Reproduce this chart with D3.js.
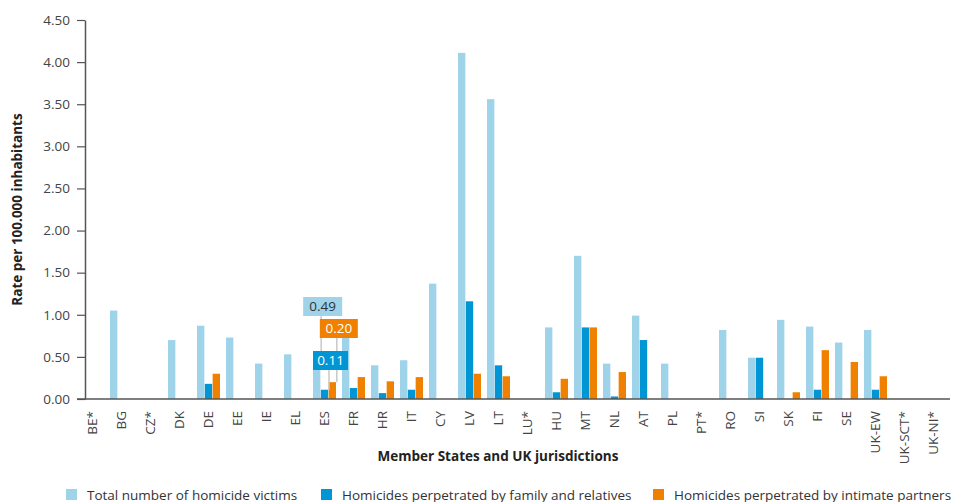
<!DOCTYPE html>
<html>
<head>
<meta charset="utf-8">
<script src="https://cdn.jsdelivr.net/npm/d3@7"></script>
<style>
  body { margin: 0; background: #fff; }
  svg text { font-family: "Open Sans", sans-serif; }
</style>
</head>
<body>
<svg id="chart" width="953" height="502"></svg>
<script>
const categories = ['BE*', 'BG', 'CZ*', 'DK', 'DE', 'EE', 'IE', 'EL', 'ES', 'FR', 'HR', 'IT', 'CY', 'LV', 'LT',
    'LU*', 'HU', 'MT', 'NL', 'AT', 'PL', 'PT*', 'RO', 'SI', 'SK', 'FI', 'SE', 'UK-EW', 'UK-SCT*', 'UK-NI*']

const totalVictims = [null, 1.05, null, 0.70, 0.87, 0.73, 0.42, 0.53, 0.49, 0.80, 0.40, 0.46, 1.37, 4.11, 3.56,
    null, 0.85, 1.70, 0.42, 0.99, 0.42, null, 0.82, 0.49, 0.94, 0.86, 0.67, 0.82, null, null]
const familyRelatives = [null, null, null, null, 0.18, null, null, null, 0.11, 0.13, 0.07, 0.11, null, 1.16, 0.40,
    null, 0.08, 0.85, 0.03, 0.70, null, null, null, 0.49, null, 0.11, null, 0.11, null, null]
const intimatePartners = [null, null, null, null, 0.30, null, null, null, 0.20, 0.26, 0.21, 0.26, null, 0.30, 0.27,
    null, 0.24, 0.85, 0.32, null, null, null, null, null, 0.08, 0.58, 0.44, 0.27, null, null]

const seriesNames = ['Total number of homicide victims', 'Homicides perpetrated by family and relatives',
    'Homicides perpetrated by intimate partners']
const yTicks = [0, 0.5, 1, 1.5, 2, 2.5, 3, 3.5, 4, 4.5]

// value callouts shown for ES
const callouts = [
    {category: 'ES', series: 0},
    {category: 'ES', series: 2},
    {category: 'ES', series: 1}]

const colours = ['#9fd3ea', '#0096d6', '#f08000']
const seriesValues = [totalVictims, familyRelatives, intimatePartners]

const svg = d3.select('#chart')
const axisY0 = 399, axisY1 = 20, axisX = 85

const x = d3.scaleBand()
    .domain(categories)
    .range([78, 948])
const x1 = d3.scaleBand()
    .domain([0, 1, 2])
    .range([x.bandwidth() / 2 - 11.5, x.bandwidth() / 2 + 11.5])
    .paddingInner(0.06)
const y = d3.scaleLinear()
    .domain([0, 4.5])
    .range([axisY0, axisY1])

// bars
const groups = svg.append('g').selectAll('g')
    .data(categories)
    .enter()
    .append('g')
    .attr('transform', d => `translate(${x(d)},0)`)

groups.selectAll('rect')
    .data((d, i) => seriesValues.map((vals, s) => ({s: s, v: vals[i]})).filter(e => e.v !== null))
    .enter()
    .append('rect')
    .attr('x', d => x1(d.s))
    .attr('width', x1.bandwidth())
    .attr('y', d => y(d.v))
    .attr('height', d => y(0) - y(d.v))
    .attr('fill', d => colours[d.s])

// y axis
const yAxis = svg.append('g')
    .attr('transform', `translate(${axisX},0)`)
    .call(d3.axisLeft(y).tickValues(yTicks).tickFormat(d3.format('.2f')).tickSize(8).tickSizeOuter(0))
yAxis.select('.domain').attr('stroke', '#555').attr('stroke-width', 1.5)
yAxis.selectAll('.tick line').attr('stroke', '#555').attr('stroke-width', 1.2)
yAxis.selectAll('.tick text')
    .attr('x', -15)
    .attr('fill', '#444')
    .style('font-size', '13.5px')

// x axis
const xAxis = svg.append('g')
    .attr('transform', `translate(0,${axisY0})`)
    .call(d3.axisBottom(x).tickSize(0))
xAxis.select('.domain').remove()
xAxis.selectAll('.tick text')
    .attr('transform', 'rotate(-90)')
    .attr('x', -12)
    .attr('y', 0)
    .attr('dy', '0.35em')
    .attr('text-anchor', 'end')
    .attr('fill', '#444')
    .style('font-size', '13.5px')
svg.append('line')
    .attr('x1', axisX - 8).attr('x2', 950)
    .attr('y1', axisY0).attr('y2', axisY0)
    .attr('stroke', '#555').attr('stroke-width', 1.5)

// callouts
const boxOffsets = [{dx: -13.5, top: 297, w: 39}, {dx: -12.5, top: 319, w: 38}, {dx: -11.5, top: 351, w: 35}]
const cl = svg.append('g')
callouts.forEach((c, k) => {
    const v = seriesValues[c.series][categories.indexOf(c.category)]
    const cx = x(c.category) + x1(c.series) + x1.bandwidth() / 2
    const b = boxOffsets[k]
    cl.append('line')
        .attr('x1', cx + 4.5).attr('x2', cx + 4.5)
        .attr('y1', b.top + 19).attr('y2', y(v))
        .attr('stroke', '#c8c8c8').attr('stroke-width', 1.5)
})
callouts.forEach((c, k) => {
    const v = seriesValues[c.series][categories.indexOf(c.category)]
    const cx = x(c.category) + x1(c.series) + x1.bandwidth() / 2
    const b = boxOffsets[k]
    cl.append('rect')
        .attr('x', cx + b.dx).attr('y', b.top)
        .attr('width', b.w).attr('height', 19)
        .attr('fill', colours[c.series])
    cl.append('text')
        .attr('x', cx + b.dx + b.w / 2).attr('y', b.top + 14)
        .attr('text-anchor', 'middle')
        .attr('fill', c.series === 0 ? '#333' : '#fff')
        .style('font-size', '13.5px')
        .text(d3.format('.2f')(v))
})

// axis titles
svg.append('text')
    .attr('transform', `translate(22,${(axisY0 + axisY1) / 2}) rotate(-90)`)
    .attr('text-anchor', 'middle')
    .style('font-size', '13.5px')
    .style('font-weight', 'bold')
    .attr('fill', '#222')
    .text('Rate per 100.000 inhabitants')
svg.append('text')
    .attr('x', 498).attr('y', 461)
    .attr('text-anchor', 'middle')
    .style('font-size', '13.5px')
    .style('font-weight', 'bold')
    .attr('fill', '#222')
    .text('Member States and UK jurisdictions')

// legend
const legendX = [66, 321, 653]
const legend = svg.append('g').selectAll('g')
    .data(seriesNames)
    .enter()
    .append('g')
    .attr('transform', (d, i) => `translate(${legendX[i]},489)`)
legend.append('rect')
    .attr('width', 11).attr('height', 11)
    .attr('fill', (d, i) => colours[i])
legend.append('text')
    .attr('x', 21).attr('y', 11)
    .attr('fill', '#333')
    .style('font-size', '13.5px')
    .text(d => d)
</script>
</body>
</html>
